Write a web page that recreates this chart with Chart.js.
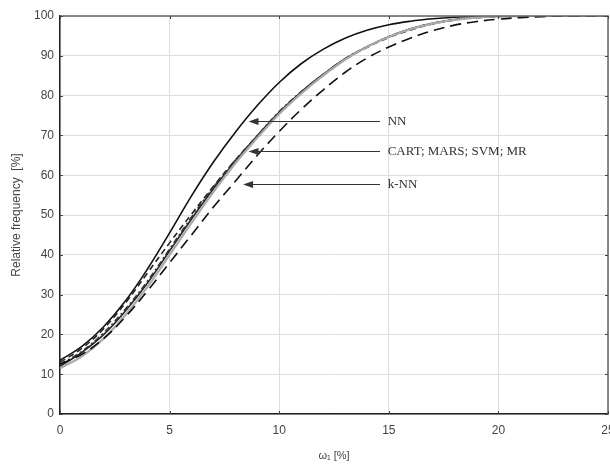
<!DOCTYPE html>
<html>
<head>
<meta charset="utf-8">
<script src="https://cdn.jsdelivr.net/npm/chart.js@4.4.1/dist/chart.umd.min.js"></script>
<style>
  html,body{margin:0;padding:0;background:#fff;}
  #wrap{width:610px;height:467px;}
</style>
</head>
<body>
<div id="wrap"><canvas id="chart" width="610" height="467"></canvas></div>
<script>
// omega_1 [%]
const xs = [0,1,2,3,4,5,6,7,8,9,10,11,12,13,14,15,16,17,18,19,20,21,22,23,24,25];
// relative frequency [%]
const nn    = [13.5,17,22,28.5,36.5,45.5,54.8,63.3,70.8,77.5,83.3,88,91.6,94.4,96.4,97.8,98.7,99.3,99.7,99.9,100,100,100,100,100,100];
const cart  = [12,15.5,20,26,33,41,49,56.6,63.5,69.9,75.8,80.9,85.3,89.2,92.3,94.8,96.8,98.2,99.1,99.6,99.9,100,100,100,100,100];
const mars  = [11.5,14.5,19,25,32,40,48,55.8,63,69.4,75.4,80.5,85,89,92.2,94.7,96.7,98.1,99,99.6,99.9,100,100,100,100,100];
const svm   = [13,16.5,21.5,28,35.5,43,50.2,57.2,63.8,69.8,75.6,80.6,85,89,92.1,94.6,96.5,98,99,99.6,99.9,100,100,100,100,100];
const mr    = [12.5,15.8,20.5,26.5,33.5,41.5,49.5,57,63.8,70,76,81,85.3,89.3,92.3,94.8,96.8,98.2,99.1,99.6,99.9,100,100,100,100,100];
const knn   = [12.5,15,19,24.5,31,38,45,52,58.5,65,71,76.5,81.4,85.8,89.4,92.2,94.5,96.3,97.7,98.6,99.2,99.6,99.85,100,100,100];

// arrow labels: text, arrow tip (x,y), arrow tail x, text x
const labelTexts = ["NN","CART; MARS; SVM; MR","k-NN"];
const labelTipX  = [8.6,8.6,8.35];
const labelY     = [73.6,66,57.8];
const labelTailX = [14.6,14.6,14.6];
const labelTextX = [14.95,14.95,14.95];

const toPts = arr => xs.map((x,i)=>({x:x,y:arr[i]}));

function line(label,data,color,width,dash){
  return {label:label,data:toPts(data),borderColor:color,borderWidth:width,borderDash:dash||[],
    pointRadius:0,fill:false,tension:0.4};
}

const frame = {
  id:'frame',
  afterDraw(chart){
    const {ctx,chartArea:a,scales} = chart;
    ctx.save();
    // top and right border
    ctx.strokeStyle='#666'; ctx.lineWidth=1.5;
    ctx.beginPath();
    ctx.moveTo(a.left,a.top); ctx.lineTo(a.right,a.top); ctx.lineTo(a.right,a.bottom);
    ctx.stroke();
    // inside ticks
    ctx.strokeStyle='#444'; ctx.lineWidth=1;
    ctx.beginPath();
    for(let v=0;v<=100;v+=10){
      const y=Math.round(scales.y.getPixelForValue(v))+0.5;
      ctx.moveTo(a.left,y); ctx.lineTo(a.left+3,y);
      ctx.moveTo(a.right,y); ctx.lineTo(a.right-3,y);
    }
    for(let v=0;v<=25;v+=5){
      const x=Math.round(scales.x.getPixelForValue(v))+0.5;
      ctx.moveTo(x,a.bottom); ctx.lineTo(x,a.bottom-3);
      ctx.moveTo(x,a.top); ctx.lineTo(x,a.top+3);
    }
    ctx.stroke();
    // arrows + labels
    ctx.strokeStyle='#333'; ctx.fillStyle='#333'; ctx.lineWidth=1;
    ctx.font='13px "Liberation Serif", "Times New Roman", serif';
    ctx.textBaseline='middle';
    labelTexts.forEach((t,i)=>{
      const y=Math.round(scales.y.getPixelForValue(labelY[i]))+0.5;
      const x1=scales.x.getPixelForValue(labelTipX[i]);
      const x2=scales.x.getPixelForValue(labelTailX[i]);
      ctx.beginPath(); ctx.moveTo(x1+8,y); ctx.lineTo(x2,y); ctx.stroke();
      ctx.beginPath(); ctx.moveTo(x1,y); ctx.lineTo(x1+10,y-3.5); ctx.lineTo(x1+10,y+3.5); ctx.closePath(); ctx.fill();
      ctx.fillText(t,scales.x.getPixelForValue(labelTextX[i]),y);
    });
    ctx.restore();
  }
};

new Chart(document.getElementById('chart'),{
  type:'line',
  data:{datasets:[
    line('k-NN',knn,'#111',1.6,[11,6]),
    line('MARS',mars,'#aaa',2.2),
    line('MR',mr,'#333',1.4,[6,3,2,3]),
    line('SVM',svm,'#222',1.6,[6,4]),
    line('CART',cart,'#222',1.6),
    line('NN',nn,'#111',1.6)
  ]},
  options:{
    responsive:false,animation:false,
    layout:{padding:{top:16,right:2,left:0,bottom:0}},
    plugins:{legend:{display:false},tooltip:{enabled:false}},
    scales:{
      x:{type:'linear',min:0,max:25,
        afterFit:s=>{s.height=53;s.paddingRight=0;s.paddingLeft=0;},
        ticks:{stepSize:5,color:'#444',padding:9,font:{family:'"Liberation Sans", Arial',size:12}},
        grid:{color:'#ddd',drawTicks:false},
        border:{color:'#222',width:1.5},
        title:{display:true,text:'ω₁ [%]',color:'#444',font:{family:'"Liberation Sans", Arial',size:11},padding:{top:4}}
      },
      y:{min:0,max:100,
        afterFit:s=>{s.width=60;s.paddingTop=0;s.paddingBottom=0;},
        ticks:{stepSize:10,color:'#444',padding:6,font:{family:'"Liberation Sans", Arial',size:12}},
        grid:{color:'#ddd',drawTicks:false},
        border:{color:'#222',width:1.5},
        title:{display:true,text:'Relative frequency  [%]',color:'#444',font:{family:'"Liberation Sans", Arial',size:12},padding:{top:9,bottom:4}}
      }
    }
  },
  plugins:[frame]
});
</script>
</body>
</html>
